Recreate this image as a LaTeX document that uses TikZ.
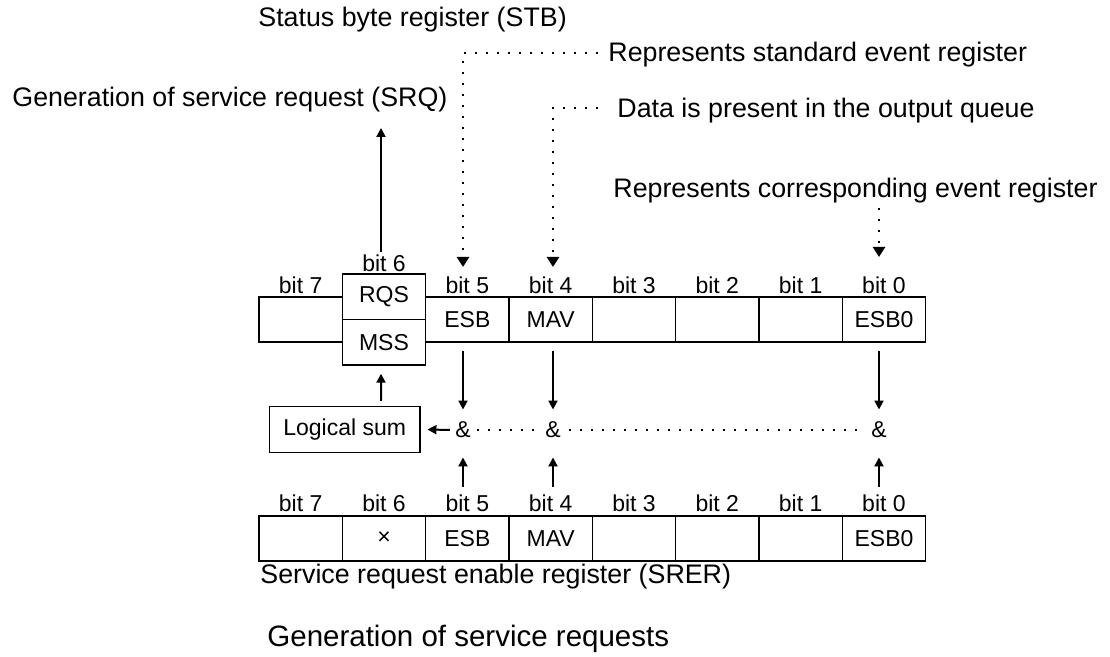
\documentclass[tikz,border=0pt]{standalone}
\usepackage{fontspec}
\setmainfont{Liberation Sans}
\usetikzlibrary{arrows.meta,calc}

\tikzset{
  smallfont/.style={font=\fontsize{11.5}{13}\selectfont},
  cell/.style={draw, line width=0.7pt, smallfont, inner sep=0pt, minimum width=41.67pt, minimum height=22.5pt},
  bitlbl/.style={smallfont, anchor=base, inner sep=0pt},
  note/.style={font=\fontsize{13.4}{16}\selectfont, anchor=base west, inner sep=0pt},
  arr/.style={line width=1pt, -{Triangle[length=4.5pt,width=4.5pt]}},
  dots/.style={line width=1.2pt, dash pattern=on 1.2pt off 4.3pt},
  dotarr/.style={dots, -{Triangle[length=5pt,width=6pt]}},
}

\begin{document}
\begin{tikzpicture}[x=0.5pt, y=-0.5pt]
\useasboundingbox (0,0) rectangle (1110,657);

% texts round the registers
\node[note] (stb) at (258,27) {Status byte register (STB)};
\node[note] (srq) at (12,107) {Generation of service request (SRQ)};
\node[note] (std) at (608,62) {Represents standard event register};
\node[note] (data) at (617,118) {Data is present in the output queue};
\node[note] (corr) at (613,198) {Represents corresponding event register};
\node[note] (srer) at (260,584) {Service request enable register (SRER)};
\node[note, font=\fontsize{14.75}{17}\selectfont] (title) at (267,647) {Generation of service requests};

% status byte register
\foreach \b/\txt [count=\i from 0] in {7/,6/,5/ESB,4/MAV,3/,2/,1/,0/ESB0} {
  \ifnum\b=6 \else
    \node[cell] (s\b) at ({300.67+83.33*\i},319.5) {\txt};
    \node[bitlbl] (sl\b) at ({300.67+83.33*\i},294) {bit \b};
  \fi
}
\node[cell, minimum height=22.75pt] (rqs) at (384,296.75) {RQS};
\node[cell, minimum height=22.75pt] (mss) at (384,342.25) {MSS};
\node[bitlbl] (sl6) at (384,272) {bit 6};

% service request enable register
\foreach \b/\txt [count=\i from 0] in {7/,6/×,5/ESB,4/MAV,3/,2/,1/,0/ESB0} {
  \node[cell] (e\b) at ({300.67+83.33*\i},538.5) {\txt};
  \node[bitlbl] (el\b) at ({300.67+83.33*\i},512) {bit \b};
}

% and gates and logical sum
\node[smallfont, inner sep=0pt] (and5) at (463,430) {\&};
\node[smallfont, inner sep=0pt] (and4) at (553,430) {\&};
\node[smallfont, inner sep=0pt] (and0) at (879,430) {\&};
\node[cell, minimum width=75.33pt, minimum height=22.8pt] (lsum) at (344.7,429.5) {Logical sum};

\foreach \b in {5,4,0} {
  \draw[arr] ($(s\b.south -| and\b)+(0,8)$) -- ($(and\b.north)+(0,-12)$);
  \draw[arr] ($(el\b.north -| and\b)+(0,-8)$) -- ($(and\b.south)+(0,19)$);
}
\draw[dots] ($(and5.east)+(6,0)$) -- ($(and4.west)+(-8,0)$);
\draw[dots] ($(and4.east)+(8,0)$) -- ($(and0.west)+(-10,0)$);
\draw[arr] ($(and5.west)+(-5,0)$) -- ($(lsum.east)+(6.7,0)$);
\draw[arr] ($(lsum.north)+(36.3,-5)$) -- ($(mss.south)+(-3,8)$);
\draw[arr] ($(sl6.north)+(-3,-3)$) -- ($(srq.base -| sl6.north)+(-3,21)$);

% dotted pointers
\coordinate (tip5) at (463,267);
\coordinate (tip4) at (553,267);
\coordinate (tip0) at (879,257);
\draw[dotarr] ($(std.base west)+(-10,-9)$) -| (tip5);
\draw[dotarr] ($(data.base west)+(-19,-10)$) -| (tip4);
\draw[dotarr] ($(corr.south -| tip0)+(0,4)$) -- (tip0);
\end{tikzpicture}
\end{document}
